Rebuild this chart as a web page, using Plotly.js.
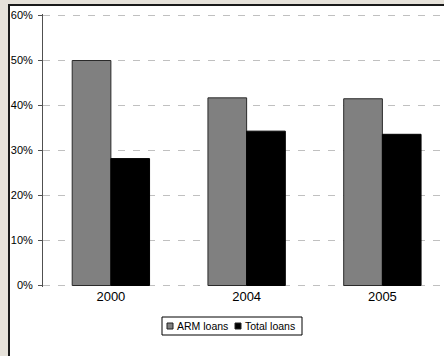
<!DOCTYPE html>
<html>
<head>
<meta charset="utf-8">
<script src="https://cdn.plot.ly/plotly-3.0.1.min.js"></script>
<style>
html, body { margin: 0; padding: 0; background: #ffffff; width: 444px; height: 356px; overflow: hidden; }
.strip { position: absolute; background: #e6e2da; }
.edge { position: absolute; background: #1a1a1a; }
#chart { position: absolute; left: 10px; top: 6px; width: 433px; height: 349px; }
</style>
</head>
<body>
<div class="strip" style="left:0;top:0;width:8px;height:356px;"></div>
<div class="strip" style="left:0;top:0;width:444px;height:4px;"></div>
<div class="edge" style="left:8px;top:4px;width:2px;height:352px;"></div>
<div class="edge" style="left:8px;top:4px;width:436px;height:2px;"></div>
<div id="chart"></div>
<script>
var categories = ["2000", "2004", "2005"];
var seriesNames = ["ARM loans", "Total loans"];
var armLoans = [0.50, 0.417, 0.415];
var totalLoans = [0.282, 0.343, 0.336];
var yTickVals = [0, 0.1, 0.2, 0.3, 0.4, 0.5, 0.6];
var yTickText = ["0%", "10%", "20%", "30%", "40%", "50%", "60%"];

var FONT = "Arial, 'Liberation Sans', sans-serif";
var W = 433, H = 349;
var mL = 33, mT = 8, mR = 0;
var plotH = 273;
var mB = H - mT - plotH;
var plotW = W - mL - mR;
// convert chart pixel coords to paper coords
function px(x) { return (x - mL) / plotW; }
function py(y) { return (H - mB - y) / plotH; }

var colors = ["#808080", "#000000"];
var lineColors = ["#2a2a2a", "#000000"];
var seriesVals = [armLoans, totalLoans];

var data = seriesNames.map(function (n, i) {
  return {
    type: "bar", name: n, x: categories, y: seriesVals[i],
    marker: { color: colors[i], line: { color: lineColors[i], width: 1 } },
    hoverinfo: "none"
  };
});

// compact legend (chart pixel coords)
var legBox = { x0: 152, x1: 292, y0: 311, y1: 329 };
var legItems = [
  { sx: 157, tx: 165 },
  { sx: 225, tx: 233 }
];
var shapes = [{
  type: "rect", xref: "paper", yref: "paper",
  x0: px(legBox.x0), x1: px(legBox.x1), y0: py(legBox.y1), y1: py(legBox.y0),
  line: { color: "#000", width: 1 }, fillcolor: "#fff"
}];
var annotations = [];
legItems.forEach(function (it, i) {
  shapes.push({
    type: "rect", xref: "paper", yref: "paper",
    x0: px(it.sx), x1: px(it.sx + 6), y0: py(323), y1: py(317),
    line: { color: "#222", width: 1 }, fillcolor: colors[i]
  });
  annotations.push({
    xref: "paper", yref: "paper", x: px(it.tx), y: py(320),
    xanchor: "left", yanchor: "middle", showarrow: false,
    text: seriesNames[i], font: { family: FONT, size: 10.5, color: "#000" }
  });
});

var pad = (plotH / 450 - 0.6) / 2;
var catPx = 135.75;

var layout = {
  width: W, height: H,
  margin: { l: mL, r: mR, t: mT, b: mB, pad: 0 },
  paper_bgcolor: "#ffffff", plot_bgcolor: "#ffffff",
  barmode: "group", bargap: 0.43, bargroupgap: 0,
  showlegend: false,
  font: { family: FONT, color: "#000" },
  xaxis: {
    type: "category", range: [-0.5, -0.5 + plotW / catPx],
    showgrid: false, showline: false, ticks: "", zeroline: false,
    tickfont: { family: FONT, size: 13, color: "#000" }
  },
  yaxis: {
    range: [-pad, 0.6 + pad], tickvals: yTickVals, ticktext: yTickText,
    showgrid: true, gridcolor: "#c0c0c0", gridwidth: 1, griddash: "7px,8px",
    zeroline: false, showline: true, linecolor: "#505050", linewidth: 1,
    ticks: "outside", ticklen: 4, tickcolor: "#505050", ticklabelstandoff: 3,
    tickfont: { family: FONT, size: 11, color: "#000" }
  },
  shapes: shapes,
  annotations: annotations
};

Plotly.newPlot("chart", data, layout, { staticPlot: true, displayModeBar: false });
</script>
</body>
</html>
